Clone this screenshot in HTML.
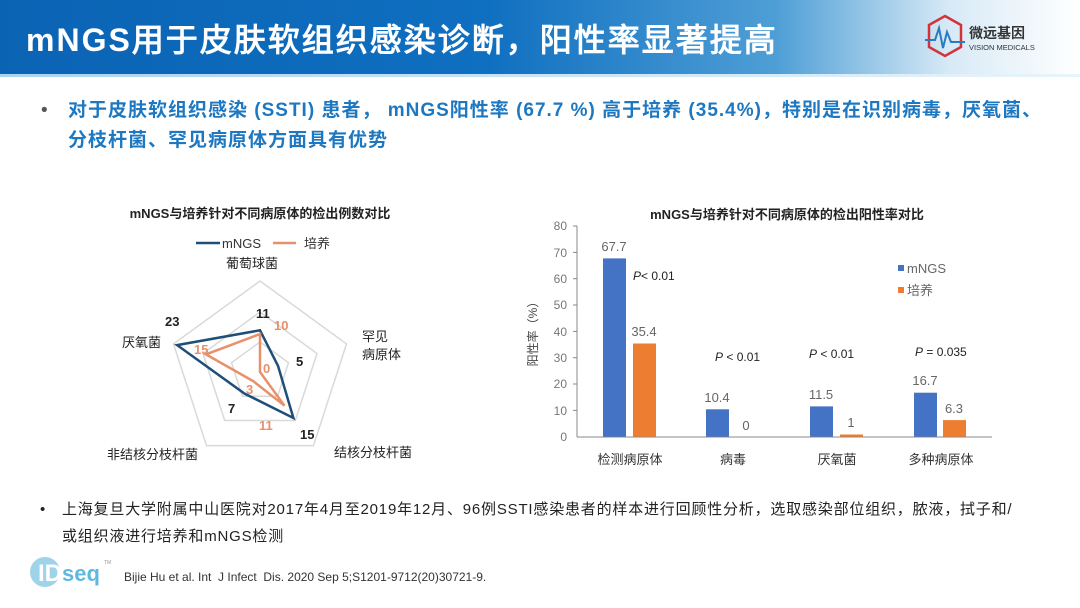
<!DOCTYPE html>
<html><head><meta charset="utf-8"><style>
body{margin:0;width:1080px;height:608px;overflow:hidden;background:#fff;font-family:"Liberation Sans","Noto Sans CJK SC",sans-serif;position:relative}
.hdr{position:absolute;left:0;top:0;width:1080px;height:74px;background:linear-gradient(90deg,#0b63b4 0%,#0f6fc0 45%,#4f9fd6 72%,#d8eaf6 88%,#fff 100%)}
.hdr2{position:absolute;left:0;top:74px;width:1080px;height:3px;background:linear-gradient(90deg,#a9d3ef,#e8f4fb)}
.title{position:absolute;left:26px;top:15px;color:#fff;font-size:32px;font-weight:bold;letter-spacing:2px;font-family:"Liberation Sans","WenQuanYi Zen Hei",sans-serif;white-space:nowrap}
.b{position:absolute;color:#1d78c1;font-size:19px;font-weight:bold;line-height:30px;left:54px;top:96px;letter-spacing:1px;white-space:nowrap}
.s{position:absolute;font-size:15px;color:#222;line-height:27px;letter-spacing:0.8px}
</style></head><body>
<div class="hdr"></div><div class="hdr2"></div>
<div class="title">mNGS用于皮肤软组织感染诊断，阳性率显著提高</div>
<svg style="position:absolute;left:925px;top:14px" width="140" height="50">
<polygon points="20,2 36,11 36,33 20,42 4,33 4,11" fill="none" stroke="#d4323b" stroke-width="2.5"/>
<polyline points="0,26 10,26 14,14 18,34 22,18 26,28 40,28" fill="none" stroke="#2a7bbf" stroke-width="2"/>
<text x="44" y="24" font-size="14" font-weight="bold" fill="#333">微远基因</text>
<text x="44" y="36" font-size="7.5" fill="#333">VISION MEDICALS</text>
</svg>
<div class="b"><span style="position:absolute;left:-13px;color:#555;font-weight:normal">•</span><span style="padding-left:14px">对于皮肤软组织感染 (SSTI) 患者， mNGS阳性率 (67.7 %) 高于培养 (35.4%)，特别是在识别病毒，厌氧菌、</span><br><span style="padding-left:14px">分枝杆菌、罕见病原体方面具有优势</span></div>

<svg style="position:absolute;left:0;top:0" width="1080" height="608" font-family="Liberation Sans,Noto Sans CJK SC,sans-serif">
<text x="260" y="218" font-size="13" font-weight="bold" text-anchor="middle" fill="#222">mNGS与培养针对不同病原体的检出例数对比</text>
<line x1="196" y1="243" x2="220" y2="243" stroke="#1f4e79" stroke-width="2.5"/><text x="222" y="248" font-size="13" fill="#333">mNGS</text>
<line x1="273" y1="243" x2="296" y2="243" stroke="#e8906a" stroke-width="2.5"/><text x="304" y="248" font-size="13" fill="#333">培养</text>
<text x="252" y="268" font-size="13" fill="#222" text-anchor="middle">葡萄球菌</text>
<g fill="none" stroke="#d9d9d9" stroke-width="1.5">
<polygon points="260,281 346.5,343.9 313.5,445.6 206.5,445.6 173.5,343.9"/>
<polygon points="260,312 317,353.5 295.3,420.5 224.7,420.5 203,353.5"/>
<polygon points="260,342 288.5,362.7 277.6,396.3 242.4,396.3 231.5,362.7"/>
</g>
<polygon points="260,330.3 278.1,366.1 293.4,418 244.4,393.5 177.1,345.1" fill="none" stroke="#1f4e79" stroke-width="2.5"/>
<polygon points="260,334.1 260,372 284.5,405.7 253.3,381.2 205.9,354.4" fill="none" stroke="#e8906a" stroke-width="2.5"/>
<g font-size="13" font-weight="bold" fill="#222">
<text x="256" y="318">11</text><text x="296" y="366">5</text><text x="228" y="413">7</text><text x="300" y="439">15</text><text x="165" y="326">23</text></g>
<g font-size="13" font-weight="bold" fill="#e8906a">
<text x="274" y="330">10</text><text x="263" y="373">0</text><text x="246" y="394">3</text><text x="259" y="430">11</text><text x="194" y="354">15</text></g>
<g font-size="13" fill="#222"><text x="122" y="347">厌氧菌</text><text x="362" y="341">罕见</text><text x="362" y="359">病原体</text>
<text x="107" y="459">非结核分枝杆菌</text><text x="334" y="457">结核分枝杆菌</text></g>

<text x="787" y="219" font-size="13" font-weight="bold" text-anchor="middle" fill="#222">mNGS与培养针对不同病原体的检出阳性率对比</text>
<g font-size="12" fill="#777" text-anchor="end">
<text x="567" y="441">0</text><text x="567" y="415">10</text><text x="567" y="388">20</text><text x="567" y="362">30</text><text x="567" y="336">40</text><text x="567" y="309">50</text><text x="567" y="283">60</text><text x="567" y="257">70</text><text x="567" y="230">80</text></g>
<g stroke="#888"><line x1="577" y1="226" x2="577" y2="437"/><line x1="577" y1="437" x2="992" y2="437"/>
<line x1="573" y1="226" x2="577" y2="226"/><line x1="573" y1="252.4" x2="577" y2="252.4"/><line x1="573" y1="278.7" x2="577" y2="278.7"/><line x1="573" y1="305" x2="577" y2="305"/><line x1="573" y1="331.4" x2="577" y2="331.4"/><line x1="573" y1="357.7" x2="577" y2="357.7"/><line x1="573" y1="384" x2="577" y2="384"/><line x1="573" y1="410.4" x2="577" y2="410.4"/></g>
<text transform="translate(537,331) rotate(-90)" font-size="12" fill="#444" text-anchor="middle">阳性率（%）</text>
<g fill="#4472c4"><rect x="603" y="258.4" width="23" height="178.3"/><rect x="706" y="409.3" width="23" height="27.4"/><rect x="810" y="406.4" width="23" height="30.3"/><rect x="914" y="392.7" width="23" height="44"/></g>
<g fill="#ed7d31"><rect x="633" y="343.5" width="23" height="93.2"/><rect x="840" y="434.5" width="23" height="2.2"/><rect x="943" y="420.1" width="23" height="16.6"/></g>
<g font-size="13" fill="#666" text-anchor="middle">
<text x="614" y="251">67.7</text><text x="644" y="336">35.4</text><text x="717" y="402">10.4</text><text x="746" y="430">0</text><text x="821" y="399">11.5</text><text x="851" y="427">1</text><text x="925" y="385">16.7</text><text x="954" y="413">6.3</text></g>
<g font-size="12" fill="#222"><text x="633" y="280"><tspan font-style="italic">P</tspan>&lt; 0.01</text><text x="715" y="361"><tspan font-style="italic">P</tspan> &lt; 0.01</text><text x="809" y="358"><tspan font-style="italic">P</tspan> &lt; 0.01</text><text x="915" y="356"><tspan font-style="italic">P</tspan> = 0.035</text></g>
<rect x="898" y="265" width="6" height="6" fill="#4472c4"/><text x="907" y="273" font-size="13" fill="#666">mNGS</text>
<rect x="898" y="287" width="6" height="6" fill="#ed7d31"/><text x="907" y="295" font-size="13" fill="#666">培养</text>
<g font-size="13" fill="#333" text-anchor="middle"><text x="630" y="464">检测病原体</text><text x="733" y="464">病毒</text><text x="837" y="464">厌氧菌</text><text x="941" y="464">多种病原体</text></g>
</svg>
<div class="s" style="left:40px;top:496px">•</div>
<div class="s" style="left:62px;top:496px;width:1000px">上海复旦大学附属中山医院对2017年4月至2019年12月、96例SSTI感染患者的样本进行回顾性分析，选取感染部位组织，脓液，拭子和/<br>或组织液进行培养和mNGS检测</div>
<svg style="position:absolute;left:28px;top:548px" width="90" height="46">
<circle cx="17" cy="24" r="15" fill="#9fd3ea"/><text x="10" y="33" font-size="24" font-weight="bold" fill="#fff">ID</text>
<text x="34" y="33" font-size="22" font-weight="bold" fill="#5fb8e0">seq</text><text x="76" y="16" font-size="5" fill="#999">TM</text></svg>
<div style="position:absolute;left:124px;top:570px;font-size:12px;color:#333">Bijie Hu et al. Int&nbsp; J Infect&nbsp; Dis. 2020 Sep 5;S1201-9712(20)30721-9.</div>
</body></html>
